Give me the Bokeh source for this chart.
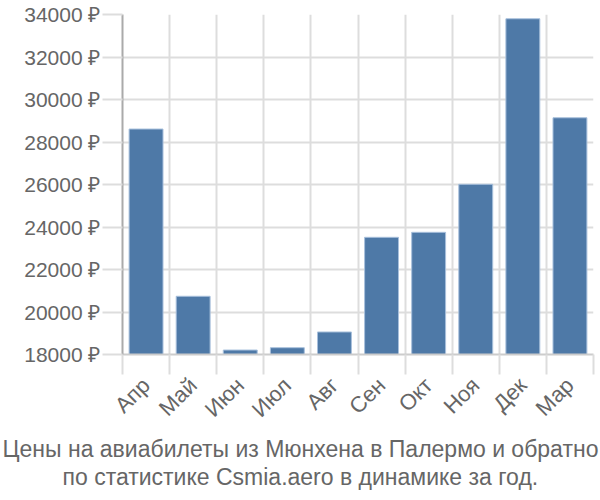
from bokeh.plotting import figure
from bokeh.models import Range1d, FixedTicker, PrintfTickFormatter, Title
from bokeh.embed import file_html
from bokeh.resources import INLINE
import math

months = ["Апр", "Май", "Июн", "Июл", "Авг", "Сен", "Окт", "Ноя", "Дек", "Мар"]
prices = [28610, 20740, 18210, 18320, 19060, 23515, 23750, 26010, 33800, 29140]
y_ticks = [18000, 20000, 22000, 24000, 26000, 28000, 30000, 32000, 34000]
title_lines = ["Цены на авиабилеты из Мюнхена в Палермо и обратно",
               "по статистике Csmia.aero в динамике за год."]

FONT = "Liberation Sans"
n = len(months)
xs = list(range(n))
bounds = [i - 0.5 for i in range(n + 1)]

LEFT, RIGHT, TOP, BOTTOM = 122, 7, 14, 146
p = figure(width=600, height=500, output_backend="svg", toolbar_location=None,
           x_range=Range1d(-0.5, n - 0.5), y_range=Range1d(18000, 34000),
           min_border_left=LEFT, min_border_right=RIGHT,
           min_border_top=TOP, min_border_bottom=BOTTOM)
p.outline_line_color = None
p.background_fill_color = "white"

p.vbar(x=xs, top=prices, bottom=18000, width=0.72,
       fill_color="#4e79a7", line_color="#a8c0dc", line_width=1)

# y axis
p.yaxis.ticker = FixedTicker(ticks=y_ticks)
p.yaxis.formatter = PrintfTickFormatter(format="%d ₽")
p.yaxis.major_label_text_font = FONT
p.yaxis.major_label_text_font_size = "21px"
p.yaxis.major_label_text_color = "#666666"
p.yaxis.axis_line_color = "#aaaaaa"
p.yaxis.axis_line_width = 2
p.yaxis.major_tick_line_color = "#dddddd"
p.yaxis.major_tick_line_width = 2
p.yaxis.major_tick_out = 20
p.yaxis.major_tick_in = 0
p.yaxis.minor_tick_line_color = None
p.yaxis.major_label_standoff = 2
p.ygrid.ticker = FixedTicker(ticks=y_ticks)
p.ygrid.grid_line_color = "#dddddd"
p.ygrid.grid_line_width = 2

# x axis
p.xaxis.ticker = FixedTicker(ticks=xs, minor_ticks=bounds)
p.xaxis.major_label_overrides = {i: m for i, m in enumerate(months)}
p.xaxis.major_label_orientation = math.pi / 4
p.xaxis.major_label_text_font = FONT
p.xaxis.major_label_text_font_size = "22px"
p.xaxis.major_label_text_color = "#666666"
p.xaxis.major_tick_line_color = None
p.xaxis.minor_tick_line_color = "#dddddd"
p.xaxis.minor_tick_line_width = 2
p.xaxis.minor_tick_out = 20
p.xaxis.minor_tick_in = 0
p.xaxis.axis_line_color = "#cccccc"
p.xaxis.axis_line_width = 2
p.xaxis.major_label_standoff = 7
p.xgrid.ticker = FixedTicker(ticks=bounds)
p.xgrid.grid_line_color = "#dddddd"
p.xgrid.grid_line_width = 2

# two-line caption, left aligned with offsets relative to frame left edge
starts = [2, 62]
for line, sx in zip(title_lines, starts):
    p.add_layout(Title(text=line, align="left", offset=sx - LEFT, text_font=FONT,
                       text_font_size="23px", text_color="#666666",
                       text_font_style="normal", standoff=0), "below")

open("out.html", "w").write(file_html(p, INLINE))
